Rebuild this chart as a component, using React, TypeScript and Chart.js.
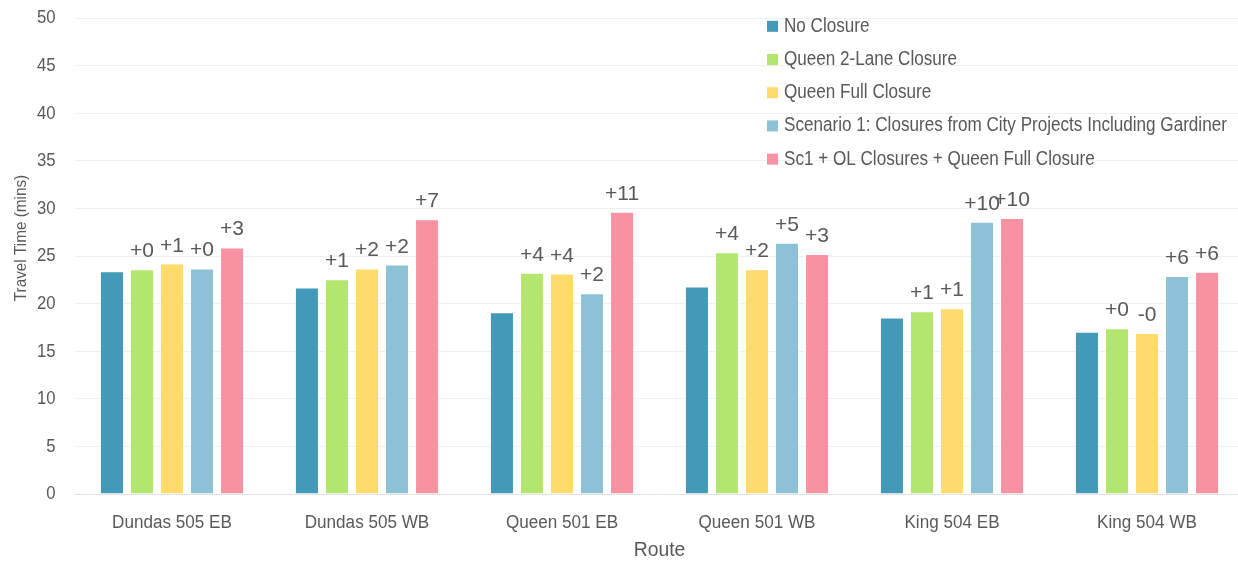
import React, { useEffect, useRef } from 'react';
import { Chart, registerables } from 'chart.js';

Chart.register(...registerables);

const routes = ['Dundas 505 EB', 'Dundas 505 WB', 'Queen 501 EB', 'Queen 501 WB', 'King 504 EB', 'King 504 WB'];
const seriesNames = [
  'No Closure',
  'Queen 2-Lane Closure',
  'Queen Full Closure',
  'Scenario 1: Closures from City Projects Including Gardiner',
  'Sc1 + OL Closures + Queen Full Closure',
];
const seriesColors = ['#4399b8', '#b3e66e', '#ffdb6b', '#8dc2d6', '#f792a2'];

const noClosure = [23.4, 21.7, 19.1, 21.8, 18.55, 17.05];
const queen2Lane = [23.6, 22.55, 23.25, 25.4, 19.2, 17.4];
const queenFull = [24.2, 23.7, 23.15, 23.6, 19.5, 16.9];
const scenario1 = [23.7, 24.1, 21.1, 26.4, 28.6, 22.9];
const sc1OL = [25.9, 28.85, 29.65, 25.2, 29.0, 23.35];

const noClosureDelta: string[] = [];
const queen2LaneDelta = ['+0', '+1', '+4', '+4', '+1', '+0'];
const queenFullDelta = ['+1', '+2', '+4', '+2', '+1', '-0'];
const scenario1Delta = ['+0', '+2', '+2', '+5', '+10', '+6'];
const sc1OLDelta = ['+3', '+7', '+11', '+3', '+10', '+6'];

const yMin = 0;
const yMax = 50;
const yStep = 5;

const xTitle = 'Route';
const yTitle = 'Travel Time (mins)';

const FONT = '"Liberation Sans", Arial, sans-serif';
const TEXT = '#595959';

const seriesValues = [noClosure, queen2Lane, queenFull, scenario1, sc1OL];
const seriesDeltas = [noClosureDelta, queen2LaneDelta, queenFullDelta, scenario1Delta, sc1OLDelta];

function drawScaledText(ctx: CanvasRenderingContext2D, text: string, x: number, y: number, sx: number) {
  ctx.save();
  ctx.translate(x, y);
  ctx.scale(sx, 1);
  ctx.fillText(text, 0, 0);
  ctx.restore();
}

const deltaLabelPlugin = {
  id: 'deltaLabels',
  afterDatasetsDraw(chart: any) {
    const ctx = chart.ctx;
    ctx.save();
    ctx.font = `21px ${FONT}`;
    ctx.fillStyle = TEXT;
    ctx.textAlign = 'center';
    ctx.textBaseline = 'alphabetic';
    seriesDeltas.forEach((labels, i) => {
      const meta = chart.getDatasetMeta(i);
      meta.data.forEach((bar: any, j: number) => {
        const t = labels[j];
        if (t) ctx.fillText(t, bar.x, bar.y - 12);
      });
    });
    ctx.restore();
  },
};

const yTickPlugin = {
  id: 'yTickLabels',
  afterDraw(chart: any) {
    const ctx = chart.ctx;
    const ys = chart.scales.y;
    ctx.save();
    ctx.font = `18px ${FONT}`;
    ctx.fillStyle = TEXT;
    ctx.textAlign = 'right';
    ctx.textBaseline = 'middle';
    for (let v = yMin; v <= yMax; v += yStep) {
      drawScaledText(ctx, String(v), chart.chartArea.left - 19, ys.getPixelForValue(v) + 0.5, 0.93);
    }
    ctx.restore();
  },
};

const xTickPlugin = {
  id: 'xTickLabels',
  afterDraw(chart: any) {
    const ctx = chart.ctx;
    const xs = chart.scales.x;
    ctx.save();
    ctx.font = `18px ${FONT}`;
    ctx.fillStyle = TEXT;
    ctx.textAlign = 'center';
    ctx.textBaseline = 'middle';
    routes.forEach((r, i) => {
      drawScaledText(ctx, r, xs.getPixelForValue(i), 523, 0.95);
    });
    ctx.restore();
  },
};

const legendPlugin = {
  id: 'insideLegend',
  afterDraw(chart: any) {
    const ctx = chart.ctx;
    ctx.save();
    ctx.font = `20px ${FONT}`;
    ctx.textBaseline = 'middle';
    ctx.textAlign = 'left';
    const x0 = 767;
    const y0 = 26.3;
    const gap = 33.2;
    seriesNames.forEach((name, i) => {
      const cy = y0 + i * gap;
      ctx.fillStyle = seriesColors[i];
      ctx.fillRect(x0, cy - 5.5, 11, 11);
      ctx.fillStyle = TEXT;
      drawScaledText(ctx, name, x0 + 17, cy, 0.855);
    });
    ctx.restore();
  },
};

const axisTitlePlugin = {
  id: 'axisTitles',
  afterDraw(chart: any) {
    const ctx = chart.ctx;
    const area = chart.chartArea;
    ctx.save();
    ctx.fillStyle = TEXT;
    ctx.textAlign = 'center';
    ctx.textBaseline = 'middle';
    ctx.font = `21px ${FONT}`;
    drawScaledText(ctx, xTitle, (area.left + area.right) / 2, 550, 0.92);
    ctx.translate(21, 238);
    ctx.rotate(-Math.PI / 2);
    ctx.font = `17px ${FONT}`;
    ctx.scale(0.9, 1);
    ctx.fillText(yTitle, 0, 0);
    ctx.restore();
  },
};

export default function App() {
  const canvasRef = useRef<HTMLCanvasElement | null>(null);

  useEffect(() => {
    document.body.style.margin = '0';
    if (!canvasRef.current) return;
    const chart = new Chart(canvasRef.current, {
      type: 'bar',
      data: {
        labels: routes,
        datasets: seriesNames.map((name, i) => ({
          label: name,
          data: seriesValues[i],
          backgroundColor: seriesColors[i],
          borderColor: 'rgba(255,255,255,0.35)',
          borderWidth: 1,
          barPercentage: 0.8,
          categoryPercentage: 0.77,
        })),
      },
      options: {
        animation: false,
        responsive: true,
        maintainAspectRatio: false,
        layout: { padding: { top: 18, right: 5.5, bottom: 0, left: 0 } },
        plugins: {
          legend: { display: false },
          tooltip: { enabled: false },
        },
        scales: {
          x: {
            grid: { display: false, drawTicks: false },
            border: { display: true, color: '#e3e3e3', width: 1 },
            ticks: { display: false },
            afterFit: (scale: any) => {
              scale.height = 67;
            },
          },
          y: {
            min: yMin,
            max: yMax,
            grid: { color: '#f0f0f0', drawTicks: false },
            border: { display: false },
            ticks: { stepSize: yStep, display: false },
            afterFit: (scale: any) => {
              scale.width = 74.5;
            },
          },
        },
      },
      plugins: [deltaLabelPlugin, yTickPlugin, xTickPlugin, legendPlugin, axisTitlePlugin],
    } as any);
    return () => chart.destroy();
  }, []);

  return (
    <div style={{ position: 'fixed', top: 0, left: 0, width: 1238, height: 561, overflow: 'hidden', background: '#fff' }}>
      <div style={{ width: 1250, height: 561, position: 'relative' }}>
        <canvas ref={canvasRef} />
      </div>
    </div>
  );
}
